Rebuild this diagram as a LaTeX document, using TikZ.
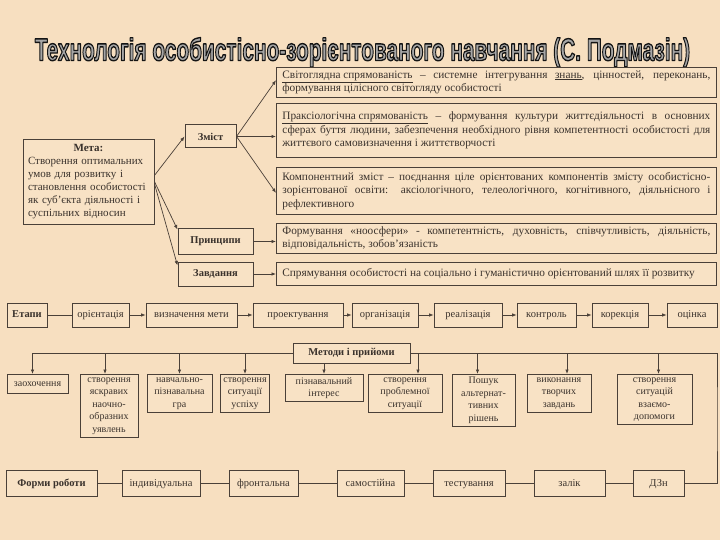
\documentclass[tikz,border=0pt]{standalone}
\usepackage{fontspec}
\setmainfont{Liberation Serif}
\newfontfamily\titlefont{Liberation Sans}
\usetikzlibrary{arrows.meta}

\definecolor{paper}{HTML}{F7DFC0}
\definecolor{boxfill}{HTML}{F8E2C5}
\definecolor{ink}{HTML}{3A322C}
\definecolor{frame}{HTML}{4A4038}
\definecolor{titlegrey}{HTML}{A6A6A6}

\newcommand{\titletext}{\resizebox{655pt}{23pt}{\titlefont\bfseries Технологія особистісно-зорієнтованого навчання (С. Подмазін)}}
% outlined letters: fill and stroke text rendering
\newcommand{\outlined}[1]{\special{pdf:literal direct 2 Tr 0.45 w 1 j 0.08 0.08 0.08 RG}#1\special{pdf:literal direct 0 Tr}}

\begin{document}
\begin{tikzpicture}[
x=1pt, y=-1pt,
plain_box/.style={rectangle, draw=frame, line width=0.8pt, fill=boxfill, text=ink, inner xsep=3pt, inner ysep=3pt, align=center, font=\fontsize{10}{12.5}\selectfont},
bold_box/.style={plain_box, line width=1pt, font=\fontsize{10.5}{12.5}\selectfont\bfseries},
wide_box/.style={plain_box, anchor=north west, text width=428pt, align=justify, inner xsep=6pt, font=\fontsize{11.3}{13.5}\selectfont},
step_box/.style={plain_box, minimum height=24pt, text height=7.5pt, text depth=2.5pt, font=\fontsize{10.5}{12.5}\selectfont},
method_box/.style={plain_box, anchor=north},
form_box/.style={plain_box, minimum height=26pt, text height=7.5pt, text depth=2.5pt, font=\fontsize{10.5}{12.5}\selectfont},
title_text/.style={anchor=base, inner sep=0pt},
out_arrow/.style={-{Latex[length=4.5pt,width=3.5pt]}, draw=frame, line width=0.7pt},
plain_line/.style={draw=frame, line width=0.7pt}
]

% background
\fill[paper] (0,0) rectangle (720,540);
\useasboundingbox (0,0) rectangle (720,540);

% title
\node[title_text, text=titlegrey](title) at (362.5,60.5) {\outlined{\titletext}};

% goal, content, principles, tasks
\node[plain_box, text width=121pt, align=left, inner sep=5pt, minimum height=85pt, font=\fontsize{11}{13}\selectfont](meta) at (88.5,181.5)
  {\makebox[\linewidth]{\textbf{Мета:}}\\Створення оптимальних\\умов для розвитку і\\становлення особистості\\як суб'єкта діяльності і\\суспільних відносин};

\node[bold_box, minimum width=51pt, minimum height=23pt](zmist) at (210.5,136.5) {Зміст};
\node[bold_box, minimum width=75pt, minimum height=25pt](pryntsypy) at (215.5,241.5) {Принципи};
\node[bold_box, minimum width=75pt, minimum height=24pt](zavdannia) at (215.5,274) {Завдання};

\node[wide_box, minimum height=29pt](svitohliad) at (276,67)
  {\underline{Світоглядна спрямованість} – системне інтегрування \underline{знань}, цінностей, переконань,\linebreak формування цілісного світогляду особистості};
\node[wide_box, minimum height=54pt](praksis) at (276,103)
  {\underline{Праксіологічна спрямованість} – формування культури життєдіяльності в основних\linebreak сферах буття людини, забезпечення необхідного рівня компетентності особистості для\linebreak життєвого самовизначення і життєтворчості};
\node[wide_box, minimum height=47pt](komponent) at (276,167)
  {Компонентний зміст – поєднання ціле орієнтованих компонентів змісту особистісно-\linebreak зорієнтованої освіти: аксіологічного, телеологічного, когнітивного, діяльнісного і\linebreak рефлективного};
\node[wide_box, minimum height=30pt](noosfera) at (276,223)
  {Формування «ноосфери» - компетентність, духовність, співчутливість, діяльність,\linebreak відповідальність, зобов'язаність};
\node[wide_box, minimum height=23pt](spriamuvannia) at (276,262)
  {Спрямування особистості на соціально і гуманістично орієнтований шлях її розвитку};

\draw[out_arrow]([yshift=6pt]meta.east) -- (zmist.west);
\draw[out_arrow](meta.east) -- ([yshift=-1pt]pryntsypy.north west);
\draw[out_arrow]([yshift=-2pt]meta.east) -- ([yshift=-4pt]zavdannia.north west);

\draw[out_arrow](zmist.east) -- ([yshift=2pt]svitohliad.west);
\draw[out_arrow](zmist.east) -- (zmist.east -| praksis.west);
\draw[out_arrow](zmist.east) -- ([yshift=-2pt]komponent.west);
\draw[out_arrow](pryntsypy.east) -- (pryntsypy.east -| noosfera.west);
\draw[out_arrow](zavdannia.east) -- (zavdannia.east -| spriamuvannia.west);

% stages
\node[step_box, minimum width=40pt, font=\fontsize{10.5}{12.5}\selectfont\bfseries](etapy) at (27,315) {Етапи};
\node[step_box, minimum width=57pt](orientatsiia) at (100.5,315) {орієнтація};
\node[step_box, minimum width=91pt](vyznachennia) at (191.5,315) {визначення мети};
\node[step_box, minimum width=90pt](proektuvannia) at (298,315) {проектування};
\node[step_box, minimum width=66pt](orhanizatsiia) at (385,315) {організація};
\node[step_box, minimum width=68pt](realizatsiia) at (468,315) {реалізація};
\node[step_box, minimum width=59pt](kontrol) at (546.5,315) {контроль};
\node[step_box, minimum width=56pt](korektsiia) at (620,315) {корекція};
\node[step_box, minimum width=50pt](otsinka) at (692,315) {оцінка};

\draw[plain_line](etapy) -- (orientatsiia);
\draw[out_arrow](orientatsiia) -- (vyznachennia);
\draw[out_arrow](vyznachennia) -- (proektuvannia);
\draw[out_arrow](proektuvannia) -- (orhanizatsiia);
\draw[out_arrow](orhanizatsiia) -- (realizatsiia);
\draw[out_arrow](realizatsiia) -- (kontrol);
\draw[out_arrow](kontrol) -- (korektsiia);
\draw[out_arrow](korektsiia) -- (otsinka);

% methods
\node[bold_box, minimum width=117pt, minimum height=20pt](metody) at (351.5,353) {Методи і прийоми};

\node[method_box, minimum width=61pt, minimum height=19pt](m1) at (37.5,374) {заохочення};
\node[method_box, minimum width=58pt](m2) at (109,374) {створення\\яскравих\\наочно-\\образних\\уявлень};
\node[method_box, minimum width=65pt](m3) at (179.5,374) {навчально-\\пізнавальна\\гра};
\node[method_box, minimum width=48pt](m4) at (245,374) {створення\\ситуації\\успіху};
\node[method_box, minimum width=78pt](m5) at (324,374) {пізнавальний\\інтерес};
\node[method_box, minimum width=74pt](m6) at (405,374) {створення\\проблемної\\ситуації};
\node[method_box, minimum width=63pt](m7) at (483.5,374) {Пошук\\альтернат-\\тивних\\рішень};
\node[method_box, minimum width=64pt](m8) at (559,374) {виконання\\творчих\\завдань};
\node[method_box, minimum width=75pt](m9) at (654.5,374) {створення\\ситуацій\\взаємо-\\допомоги};

\draw[out_arrow](metody.west) -| ([xshift=-5pt]m1.north);
\draw[out_arrow](metody.west) -| ([xshift=-4pt]m2.north);
\draw[out_arrow](metody.west) -| (m3.north);
\draw[out_arrow](metody.west) -| (m4.north);
\draw[out_arrow](metody.south -| m5.north) -- (m5.north);
\draw[out_arrow](metody.east) -| ([xshift=13pt]m6.north);
\draw[out_arrow](metody.east) -| ([xshift=-6pt]m7.north);
\draw[out_arrow](metody.east) -| ([xshift=8pt]m8.north);
\draw[out_arrow](metody.east) -| ([xshift=4pt]m9.north);

% forms of work
\node[form_box, minimum width=91pt, font=\fontsize{10.5}{12.5}\selectfont\bfseries](formy) at (51.5,483.5) {Форми роботи};
\node[form_box, minimum width=78pt](indyvidualna) at (161,483.5) {індивідуальна};
\node[form_box, minimum width=69pt](frontalna) at (263.5,483.5) {фронтальна};
\node[form_box, minimum width=67pt](samostiina) at (370.5,483.5) {самостійна};
\node[form_box, minimum width=72pt](testuvannia) at (469,483.5) {тестування};
\node[form_box, minimum width=71pt](zalik) at (569.5,483.5) {залік};
\node[form_box, minimum width=51pt](dzn) at (658.5,483.5) {ДЗн};

\draw[plain_line](formy) -- (indyvidualna);
\draw[plain_line](indyvidualna) -- (frontalna);
\draw[plain_line](frontalna) -- (samostiina);
\draw[plain_line](samostiina) -- (testuvannia);
\draw[plain_line](testuvannia) -- (zalik);
\draw[plain_line](zalik) -- (dzn);

\coordinate (right_turn) at (717,420);
\draw[plain_line](metody.east) -| (right_turn) |- (dzn.east);

\end{tikzpicture}
\end{document}
